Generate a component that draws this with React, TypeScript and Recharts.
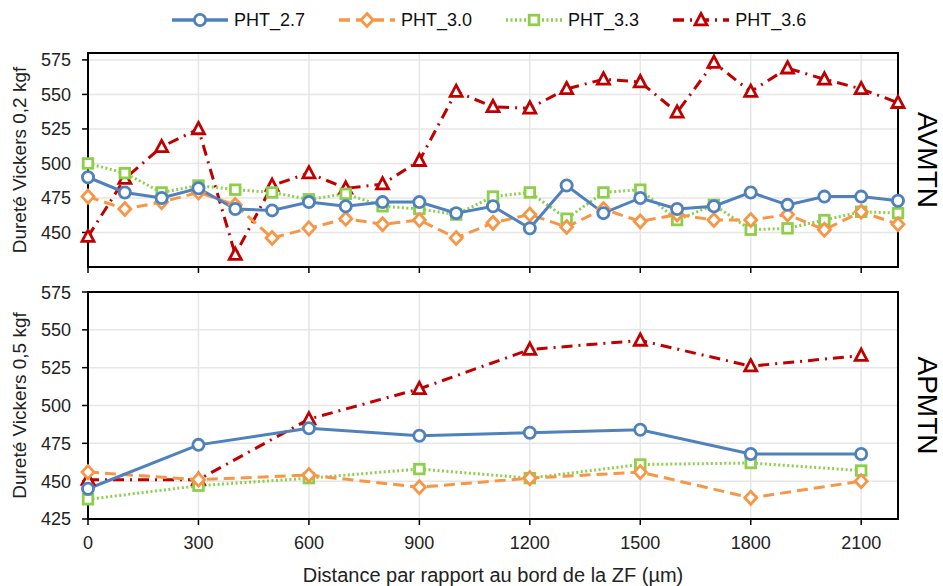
import React from "react";
import { CartesianGrid, Line, LineChart, ReferenceArea, XAxis, YAxis } from "recharts";

// AVMTN panel (0,2 kgf), one point every 100 µm
const topDistances = [0, 100, 200, 300, 400, 500, 600, 700, 800, 900, 1000, 1100, 1200, 1300, 1400, 1500, 1600, 1700, 1800, 1900, 2000, 2100, 2200];
const topPht27 = [490, 479, 475, 482, 467, 466, 472, 469, 472, 472, 464, 469, 453, 484, 464, 475, 467, 469, 479, 470, 476, 476, 473];
const topPht30 = [476, 467, 472, 479, 470, 446, 453, 460, 456, 459, 446, 457, 463, 454, 467, 458, 463, 459, 459, 463, 452, 465, 456];
const topPht33 = [500, 493, 479, 484, 481, 479, 474, 478, 469, 467, 463, 476, 479, 460, 479, 481, 459, 470, 452, 453, 459, 465, 464];
const topPht36 = [447, 489, 512, 525, 434, 484, 493, 482, 485, 502, 552, 541, 540, 554, 561, 559, 537, 573, 552, 569, 561, 554, 544];

// APMTN panel (0,5 kgf), one point every 300 µm
const bottomDistances = [0, 300, 600, 900, 1200, 1500, 1800, 2100];
const bottomPht27 = [445, 474, 485, 480, 482, 484, 468, 468];
const bottomPht30 = [456, 451, 454, 446, 452, 456, 439, 450];
const bottomPht33 = [438, 447, 452, 458, 452, 461, 462, 457];
const bottomPht36 = [451, 451, 491, 511, 537, 543, 526, 533];

const xTicks = [0, 300, 600, 900, 1200, 1500, 1800, 2100];
const topYTicks = [450, 475, 500, 525, 550, 575];
const bottomYTicks = [425, 450, 475, 500, 525, 550, 575];

const FONT = '"Liberation Sans", Arial, sans-serif';

const topData = topDistances.map((d, i) => ({
  d,
  pht27: topPht27[i],
  pht30: topPht30[i],
  pht33: topPht33[i],
  pht36: topPht36[i],
}));

const bottomData = bottomDistances.map((d, i) => ({
  d,
  pht27: bottomPht27[i],
  pht30: bottomPht30[i],
  pht33: bottomPht33[i],
  pht36: bottomPht36[i],
}));

type Shape = "circle" | "diamond" | "square" | "triangle";

// drawn bottom to top: red first, blue last
const series: Array<{ key: string; name: string; color: string; dash?: string; shape: Shape }> = [
  { key: "pht36", name: "PHT_3.6", color: "#C00000", dash: "11 6 2 6", shape: "triangle" },
  { key: "pht33", name: "PHT_3.3", color: "#8DCF4A", dash: "2 2.5", shape: "square" },
  { key: "pht30", name: "PHT_3.0", color: "#F79646", dash: "11 6", shape: "diamond" },
  { key: "pht27", name: "PHT_2.7", color: "#4F81BD", shape: "circle" },
];

const Marker = ({ cx, cy, shape, color }: { cx?: number; cy?: number; shape: Shape; color: string }) => {
  if (cx == null || cy == null) return null;
  const common = { fill: "#fff", stroke: color, strokeWidth: 2.8 };
  if (shape === "circle") return <circle cx={cx} cy={cy} r={5.6} {...common} />;
  if (shape === "diamond")
    return <path d={`M${cx},${cy - 6.5}L${cx + 6},${cy}L${cx},${cy + 6.5}L${cx - 6},${cy}Z`} {...common} />;
  if (shape === "square") return <rect x={cx - 4.8} y={cy - 4.8} width={9.6} height={9.6} {...common} />;
  return <path d={`M${cx},${cy - 6.5}L${cx + 6},${cy + 4.8}L${cx - 6},${cy + 4.8}Z`} {...common} />;
};

const renderLines = () =>
  series.map((s) => (
    <Line
      key={s.key}
      type="linear"
      dataKey={s.key}
      name={s.name}
      stroke={s.color}
      strokeWidth={3}
      strokeDasharray={s.dash}
      isAnimationActive={false}
      dot={(p: any) => <Marker key={`${s.key}-${p.index}`} cx={p.cx} cy={p.cy} shape={s.shape} color={s.color} />}
      activeDot={false}
    />
  ));

const tickStyle = { fontSize: 18, fill: "#222", fontFamily: FONT };

const LegendIcon = ({ shape, color, dash }: { shape: Shape; color: string; dash?: string }) => (
  <svg width={60} height={22}>
    <line x1={2} y1={11} x2={58} y2={11} stroke={color} strokeWidth={3.5} strokeDasharray={dash} />
    <Marker cx={30} cy={11} shape={shape} color={color} />
  </svg>
);

const ChartLegend = () => (
  <div
    style={{
      position: "absolute",
      left: 170,
      top: 9,
      display: "flex",
      alignItems: "center",
      gap: 32,
      fontFamily: FONT,
      fontSize: 18,
      color: "#111",
    }}
  >
    {[...series].reverse().map((s) => (
      <div key={s.key} style={{ display: "flex", alignItems: "center", gap: 4 }}>
        <LegendIcon shape={s.shape} color={s.color} dash={s.dash} />
        <span>{s.name}</span>
      </div>
    ))}
  </div>
);

export default function App() {
  return (
    <div style={{ position: "absolute", left: 0, top: 0, width: 943, height: 586, background: "#fff" }}>
      <ChartLegend />
      <div style={{ position: "absolute", left: 0, top: 0 }}>
        <LineChart width={943} height={282} data={topData} margin={{ top: 53, right: 5, bottom: 3, left: 14 }}>
          <CartesianGrid stroke="#e6e6e6" strokeWidth={1.5} />
          <XAxis
            dataKey="d"
            type="number"
            domain={[0, 2200]}
            ticks={xTicks}
            height={12}
            tickFormatter={() => ""}
            tickSize={6}
            axisLine={{ stroke: "#000", strokeWidth: 2 }}
            tickLine={{ stroke: "#000", strokeWidth: 1.5 }}
          />
          <YAxis
            type="number"
            domain={[425, 580]}
            ticks={topYTicks}
            allowDataOverflow
            width={74}
            tickSize={6}
            tickMargin={11}
            tick={tickStyle}
            axisLine={{ stroke: "#000", strokeWidth: 2 }}
            tickLine={{ stroke: "#000", strokeWidth: 1.5 }}
            label={{
              value: "Dureté Vickers 0,2 kgf",
              angle: -90,
              position: "insideLeft",
              offset: 5,
              style: { textAnchor: "middle", fontSize: 19, fill: "#222", fontFamily: FONT },
            }}
          />
          <YAxis
            yAxisId="right"
            orientation="right"
            type="number"
            domain={[0, 1]}
            width={40}
            axisLine={false}
            tickLine={false}
            tick={false}
            label={{
              value: "AVMTN",
              angle: 90,
              position: "insideRight",
              offset: 10,
              style: { textAnchor: "middle", fontSize: 28, fill: "#000", fontFamily: FONT },
            }}
          />
          <ReferenceArea x1={0} x2={2200} y1={425} y2={580} fill="none" stroke="#000" strokeWidth={2} />
          {renderLines()}
        </LineChart>
      </div>
      <div style={{ position: "absolute", left: 0, top: 282 }}>
        <LineChart width={943} height={304} data={bottomData} margin={{ top: 10, right: 5, bottom: 0, left: 14 }}>
          <CartesianGrid stroke="#e6e6e6" strokeWidth={1.5} />
          <XAxis
            dataKey="d"
            type="number"
            domain={[0, 2200]}
            ticks={xTicks}
            height={67}
            tickSize={6}
            tickMargin={11}
            tick={tickStyle}
            axisLine={{ stroke: "#000", strokeWidth: 2 }}
            tickLine={{ stroke: "#000", strokeWidth: 1.5 }}
            label={{
              value: "Distance par rapport au bord de la ZF (µm)",
              position: "insideBottom",
              offset: 4,
              style: { fontSize: 20, fill: "#222", fontFamily: FONT },
            }}
          />
          <YAxis
            type="number"
            domain={[425, 575]}
            ticks={bottomYTicks}
            allowDataOverflow
            width={74}
            tickSize={6}
            tickMargin={11}
            tick={tickStyle}
            axisLine={{ stroke: "#000", strokeWidth: 2 }}
            tickLine={{ stroke: "#000", strokeWidth: 1.5 }}
            label={{
              value: "Dureté Vickers 0,5 kgf",
              angle: -90,
              position: "insideLeft",
              offset: 5,
              style: { textAnchor: "middle", fontSize: 19, fill: "#222", fontFamily: FONT },
            }}
          />
          <YAxis
            yAxisId="right"
            orientation="right"
            type="number"
            domain={[0, 1]}
            width={40}
            axisLine={false}
            tickLine={false}
            tick={false}
            label={{
              value: "APMTN",
              angle: 90,
              position: "insideRight",
              offset: 10,
              style: { textAnchor: "middle", fontSize: 28, fill: "#000", fontFamily: FONT },
            }}
          />
          <ReferenceArea x1={0} x2={2200} y1={425} y2={575} fill="none" stroke="#000" strokeWidth={2} />
          {renderLines()}
        </LineChart>
      </div>
    </div>
  );
}
